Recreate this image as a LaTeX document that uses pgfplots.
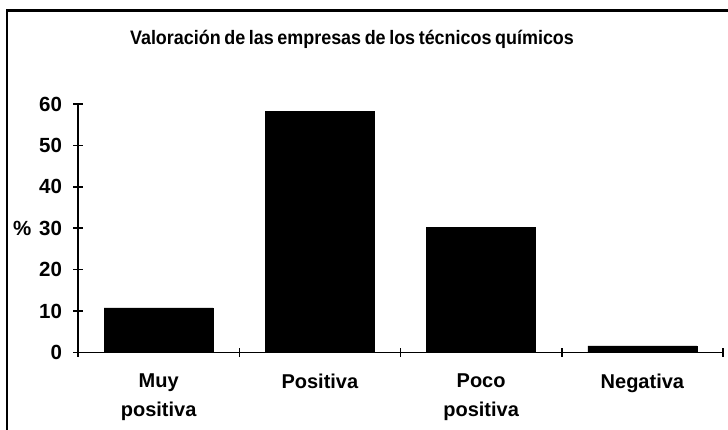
\documentclass[border=0pt]{standalone}
\usepackage{fontspec}
\setmainfont{Liberation Sans}
\usepackage{graphicx}
\usepackage{pgfplots}
\pgfplotsset{compat=1.18}
\begin{document}
\begin{tikzpicture}[x=1pt,y=1pt]
\useasboundingbox (0,0) rectangle (728,430);
\fill[white] (0,0) rectangle (728,430);
\draw[line width=2.5pt] (7,-5) -- (7,419.5) -- (735,419.5);
\node[anchor=base,font=\fontsize{19.5}{22}\selectfont\bfseries] at (352,385.5) {\scalebox{0.92}[1]{\spaceskip=0.2em Valoración de las empresas de los técnicos químicos}};
\begin{axis}[
  at={(78pt,77.5pt)}, anchor=origin,
  scale only axis, width=645pt, height=248.5pt,
  xmin=0.5, xmax=4.5, ymin=0, ymax=60,
  axis x line*=bottom, axis y line*=left,
  axis line style={line width=1.5pt,-},
  tick style={line width=1.5pt,black},
  tick align=center, major tick length=9pt,
  xtick={0.5,1.5,2.5,3.5,4.5}, xticklabels={},
  extra x ticks={1,2,3,4},
  extra x tick labels={Muy\\positiva,Positiva,Poco\\positiva,Negativa},
  extra x tick style={major tick length=0pt, tick style={draw=none}},
  xticklabel style={align=center, font=\fontsize{20}{29}\selectfont\bfseries, yshift=-18pt},
  ytick={0,10,...,60},
  yticklabel style={font=\fontsize{20.5}{24}\selectfont\bfseries, xshift=-8pt},
  /pgf/number format/assume math mode=true,
  clip=false,
]
\addplot[ybar, bar width=0.676, fill=black, draw=black] coordinates {(1,10.8) (2,58.3) (3,30.3) (4,1.6)};
\end{axis}
\node[anchor=east,font=\fontsize{20.5}{24}\selectfont\bfseries] at (35,201.5) {\%};
\end{tikzpicture}
\end{document}
